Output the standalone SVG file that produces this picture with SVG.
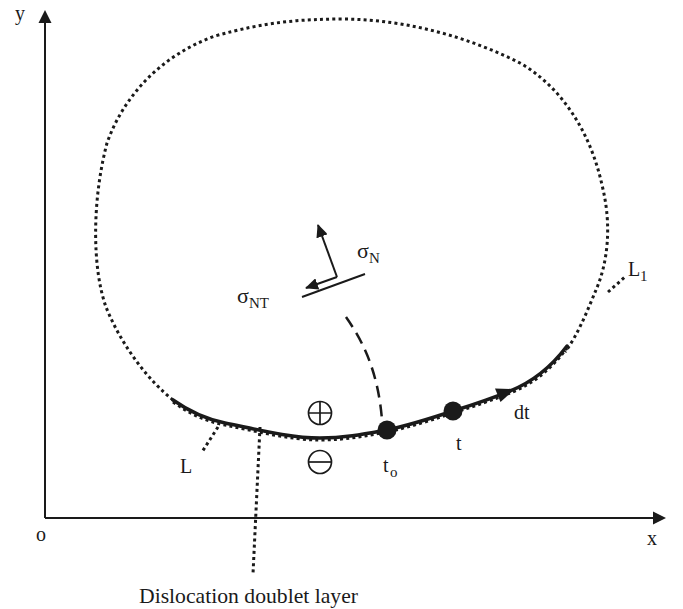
<svg xmlns="http://www.w3.org/2000/svg" width="683" height="609" viewBox="0 0 683 609">
<style>
text{font-family:"Liberation Serif","Times New Roman",serif;fill:#1a1a1a}
.lbl{font-size:20px}
.sub{font-size:15px}
.sym{fill:none;stroke:#1a1a1a;stroke-width:1.7}
.dot{fill:none;stroke:#1a1a1a;stroke-width:3;stroke-dasharray:3 3.2}
.axis{fill:none;stroke:#1a1a1a;stroke-width:2}
.solid{fill:none;stroke:#1a1a1a;stroke-width:3.5;stroke-linecap:round}
.thin{fill:none;stroke:#1a1a1a;stroke-width:2}
.head{fill:#1a1a1a}
</style>
<defs>
<marker id="ah" markerWidth="14" markerHeight="12" refX="12" refY="6" orient="auto" markerUnits="userSpaceOnUse">
<path d="M0,0 L13,6 L0,12 Z" fill="#1a1a1a"/>
</marker>
</defs>
<rect width="683" height="609" fill="#fff"/>
<g id="axes">
<path class="axis" d="M45,518 V20"/>
<path class="head" d="M45,10 L38.5,23 L51.5,23 Z"/>
<path class="axis" d="M45,518 H655"/>
<path class="head" d="M666,518 L653,511.5 L653,524.5 Z"/>
<text class="lbl" x="15" y="20">y</text>
<text class="lbl" x="36" y="541">o</text>
<text class="lbl" x="647" y="545">x</text>
</g>
<g id="L1">
<path class="dot" d="M173,400 C150,382 122,347 106,307 C92,268 92,200 107,143 C124,95 162,55 215,36 C265,22 300,19 345,19 C410,20 470,38 520,63 C560,86 590,130 602,185 C612,225 608,262 596,290 C588,309 578,335 565,352"/>
<path class="dot" d="M608,292 L626,276"/>
<text class="lbl" x="628" y="276">L</text>
<text class="sub" x="640" y="281">1</text>
</g>
<g id="L">
<path class="dot" stroke-width="2.5" d="M173,402 C190,414 205,421 225,425 C255,431 290,440 320,440 C345,440 365,436 387,432 C410,427 435,419 453,413 C475,406 495,399 510,393 C535,383 552,368 567,348"/>
<path class="solid" d="M173,400 C190,412 205,419 225,423 C255,429 290,438 320,438 C345,438 365,434 387,430 C410,425 435,417 453,411 C475,404 495,397 510,391 C535,381 552,366 567,346"/>
<path class="head" d="M515,389 L495,388.5 L500.5,402 Z"/>
<path class="dot" d="M218,427 L202,452"/>
<text class="lbl" x="180" y="473">L</text>
</g>
<g id="to">
<circle cx="387" cy="430" r="9.5" fill="#1a1a1a"/>
<text class="lbl" x="383" y="472">t</text>
<text class="sub" x="390" y="477">o</text>
</g>
<g id="t">
<circle cx="453" cy="411" r="9.5" fill="#1a1a1a"/>
<text class="lbl" x="456" y="450">t</text>
</g>
<g id="dt">
<text class="lbl" x="514" y="419">dt</text>
</g>
<g id="plus">
<circle class="sym" cx="320" cy="413" r="11.5"/>
<path class="sym" d="M308.5,413 H331.5 M320,401.5 V424.5"/>
</g>
<g id="minus">
<circle class="sym" cx="320" cy="462" r="11.5"/>
<path class="sym" d="M308.5,462 H331.5"/>
</g>
<g id="stress">
<path class="thin" d="M302,297 L365,274"/>
<path class="thin" d="M337,277 L318,225" marker-end="url(#ah)"/>
<path class="thin" d="M337,277 L306,288" marker-end="url(#ah)"/>
<text x="357" y="258" font-size="22">σ</text>
<text class="sub" x="369" y="263">N</text>
<text x="237" y="303" font-size="22">σ</text>
<text class="sub" x="249" y="308">NT</text>
</g>
<g id="connectors">
<path fill="none" stroke="#1a1a1a" stroke-width="2.5" stroke-dasharray="12 7" d="M346,317 C362,340 378,370 382,420"/>
<path class="dot" d="M260,427 L253,574"/>
</g>
<g id="caption">
<text x="139" y="603" font-size="21" textLength="219" lengthAdjust="spacingAndGlyphs">Dislocation doublet layer</text>
</g>
</svg>
